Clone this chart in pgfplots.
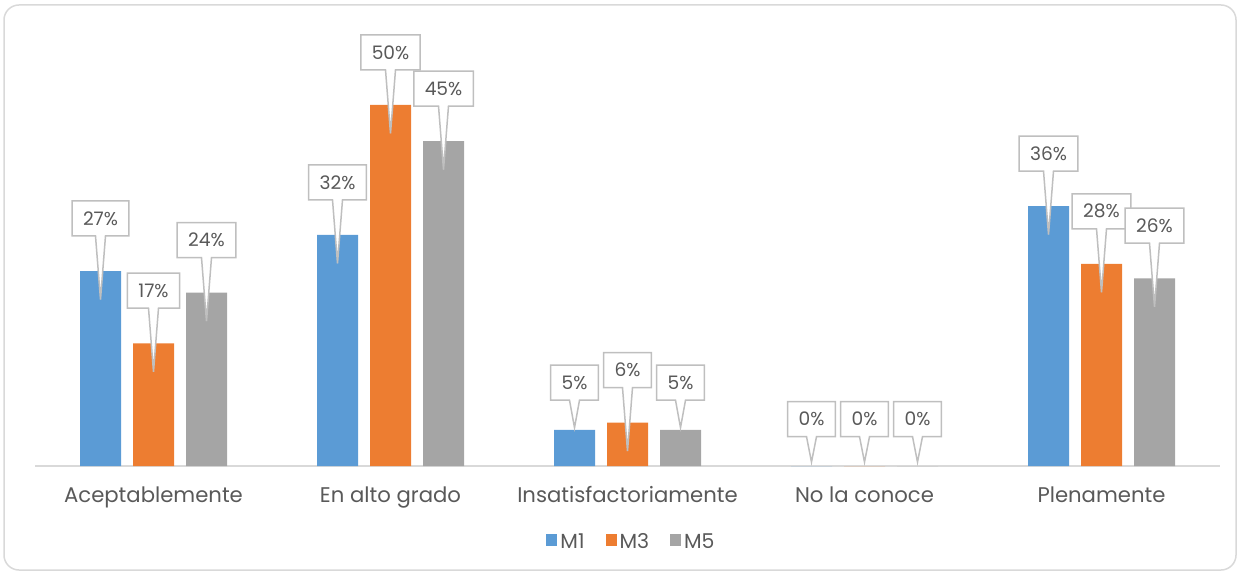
\documentclass[border=0pt]{standalone}
\usepackage{pgfplots}
\pgfplotsset{compat=1.18}
\usepackage{pgfplotstable}
\usepackage{fontspec}
\setmainfont{Poppins}
\usetikzlibrary{shapes.callouts}
\definecolor{cblue}{HTML}{5B9BD5}
\definecolor{corange}{HTML}{ED7D31}
\definecolor{cgray}{HTML}{A5A5A5}
\definecolor{labc}{HTML}{595959}
\definecolor{gridc}{HTML}{D9D9D9}
\definecolor{boxc}{HTML}{BFBFBF}
\pgfplotstableread{
x y tip
0 27 19
1 32 19
2 5 1
3 0 0
4 36 19
}\mone
\pgfplotstableread{
x y tip
0 17 19
1 50 19
2 6 19
3 0 0
4 28 19
}\mthree
\pgfplotstableread{
x y tip
0 24 19
1 45 19
2 5 1
3 0 0
4 26 19
}\mfive
\pgfplotsset{
  calloutlabels/.style={
    nodes near coords={\pgfmathprintnumber[assume math mode=true]{\pgfplotspointmeta}\%},
    visualization depends on={\thisrow{tip} \as \tipd},
    every node near coord/.append style={
      font=\fontsize{9.3}{11}\selectfont, text=labc,
      rectangle callout, draw=boxc, line width=0.75pt, fill=white,
      inner xsep=5.5pt, inner ysep=0pt, minimum height=17.5pt,
      callout pointer width=5pt,
      callout relative pointer={(0pt,{-(12.75+\tipd)*1pt})},
      anchor=pointer, yshift={-\tipd*1pt}},
  }
}
\begin{document}
\begin{tikzpicture}
\path[use as bounding box] (0,0) rectangle (620pt,286.5pt);
\draw[draw=gridc, line width=0.75pt, rounded corners=7.5pt] (2pt,1.5pt) rectangle (618pt,284pt);
\begin{axis}[
  at={(17.5pt,53.5pt)}, anchor=south west,
  scale only axis, width=592.5pt, height=209.4pt,
  xmin=-0.5, xmax=4.5, ymin=0, ymax=58,
  clip=false,
  ybar=6pt, bar width=20.5pt,
  axis x line=bottom, axis y line=none,
  x axis line style={-, draw=gridc, line width=0.75pt},
  major tick length=0pt,
  xtick={0,1,2,3,4},
  xticklabels={Aceptablemente,En alto grado,Insatisfactoriamente,No la conoce,Plenamente},
  xticklabel style={font=\fontsize{10.6}{12}\selectfont, text=labc, anchor=base, yshift=-18pt},
  ytick=\empty,
  legend style={at={(0.5,0)}, anchor=center, xshift=2.25pt, yshift=-37.5pt,
    draw=none, fill=none, font=\fontsize{10.2}{12}\selectfont, text=labc,
    /tikz/every even column/.append style={column sep=9pt},
    /tikz/every odd column/.append style={column sep=0pt},
    nodes={inner xsep=1.5pt, text height=7.3pt, text depth=0pt}},
  legend columns=-1,
  legend image code/.code={\fill[#1] (0pt,-2.5pt) rectangle (5.5pt,3.5pt);},
]
\addplot[fill=cblue, draw=none, calloutlabels] table[x=x,y=y] {\mone};
\addplot[fill=corange, draw=none, calloutlabels] table[x=x,y=y] {\mthree};
\addplot[fill=cgray, draw=none, calloutlabels] table[x=x,y=y] {\mfive};
\legend{M1,M3,M5}
\end{axis}
\end{tikzpicture}
\end{document}
